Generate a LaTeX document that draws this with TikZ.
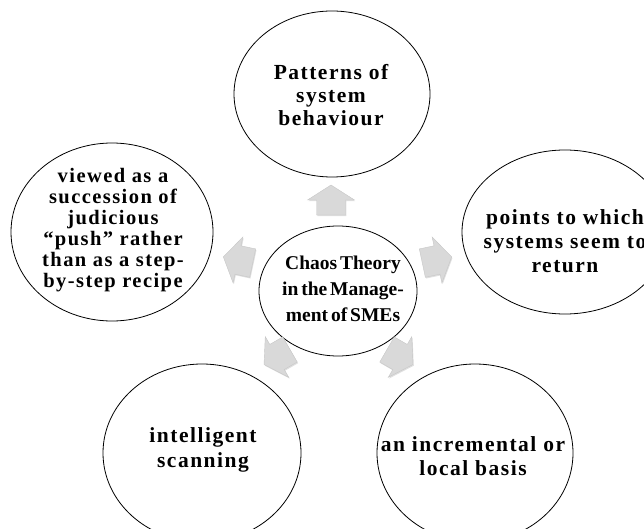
\documentclass[tikz,border=0pt]{standalone}
\usepackage{fontspec}
\setmainfont{Liberation Serif}
\newfontfamily\satfont{Liberation Serif}[LetterSpace=7]
\newfontfamily\hubfont{Liberation Serif}[WordSpace=0.6]
\usetikzlibrary{shapes.geometric,shadows}
\begin{document}
\begin{tikzpicture}[x=1pt,y=-1pt,
  bubble/.style={ellipse, draw=black, line width=0.8pt, fill=white, inner sep=0pt},
  satlabel/.style={align=center, inner sep=0pt,
    font=\satfont\bfseries\fontsize{21.5}{23}\selectfont},
  hublabel/.style={align=center, inner sep=0pt,
    font=\hubfont\bfseries\fontsize{19.5}{26}\selectfont},
  arrowbody/.style={fill=black!15, draw=black!22, line width=0.4pt,
    drop shadow={opacity=0.25, shadow xshift=0.8pt, shadow yshift=-1.2pt}},
  flowarrow/.pic={
    \path[arrowbody] (-15,-14.5) -- (0,-14.5) -- (0,-23.5) -- (15,0)
      -- (0,23.5) -- (0,14.5) -- (-15,14.5) -- cycle;
  }]
\useasboundingbox (0,0) rectangle (644,529);
\clip (0,0) rectangle (644,529);

% outer ellipses
\node[bubble, minimum width=196pt, minimum height=166pt] (top) at (332,94) {};
\node[bubble, minimum width=202pt, minimum height=178pt] (left) at (112,232) {};
\node[bubble, minimum width=206pt, minimum height=164pt] (right) at (565,232) {};
\node[bubble, minimum width=198pt, minimum height=178pt] (botleft) at (202,453) {};
\node[bubble, minimum width=196pt, minimum height=178pt] (botright) at (475,453) {};

% central ellipse
\node[bubble, minimum width=158pt, minimum height=130pt] (hub) at (338,291) {};

% labels
\node[satlabel] (toptext) at (331,95) {Patterns of\\system\\behaviour};
\node[satlabel, font=\satfont\bfseries\fontsize{20.5}{21}\selectfont]
  (lefttext) at (113,230) {viewed as a\\succession of\\judicious\\“push” rather\\than as a step-\\by-step recipe};
\node[satlabel, font=\satfont\bfseries\fontsize{21.5}{24}\selectfont]
  (righttext) at (565,241) {points to which\\systems seem to\\return};
\node[satlabel, font=\satfont\bfseries\fontsize{21.5}{25}\selectfont]
  (botlefttext) at (203,450) {intelligent\\scanning};
\node[satlabel, font=\satfont\bfseries\fontsize{21.5}{24}\selectfont]
  (botrighttext) at (473,456) {an incremental or\\local basis};
\node[hublabel] (hubtext) at (343,289) {Chaos Theory\\in the Manage-\\ment of SMEs};

% block arrows pointing outwards from the hub
\pic[rotate=90]  at (331,200) {flowarrow};
\pic[rotate=168] at (238,260) {flowarrow};
\pic[rotate=12]  at (437,260) {flowarrow};
\pic[rotate=210] at (277,357) {flowarrow};
\pic[rotate=-30] at (400,357) {flowarrow};
\end{tikzpicture}
\end{document}
